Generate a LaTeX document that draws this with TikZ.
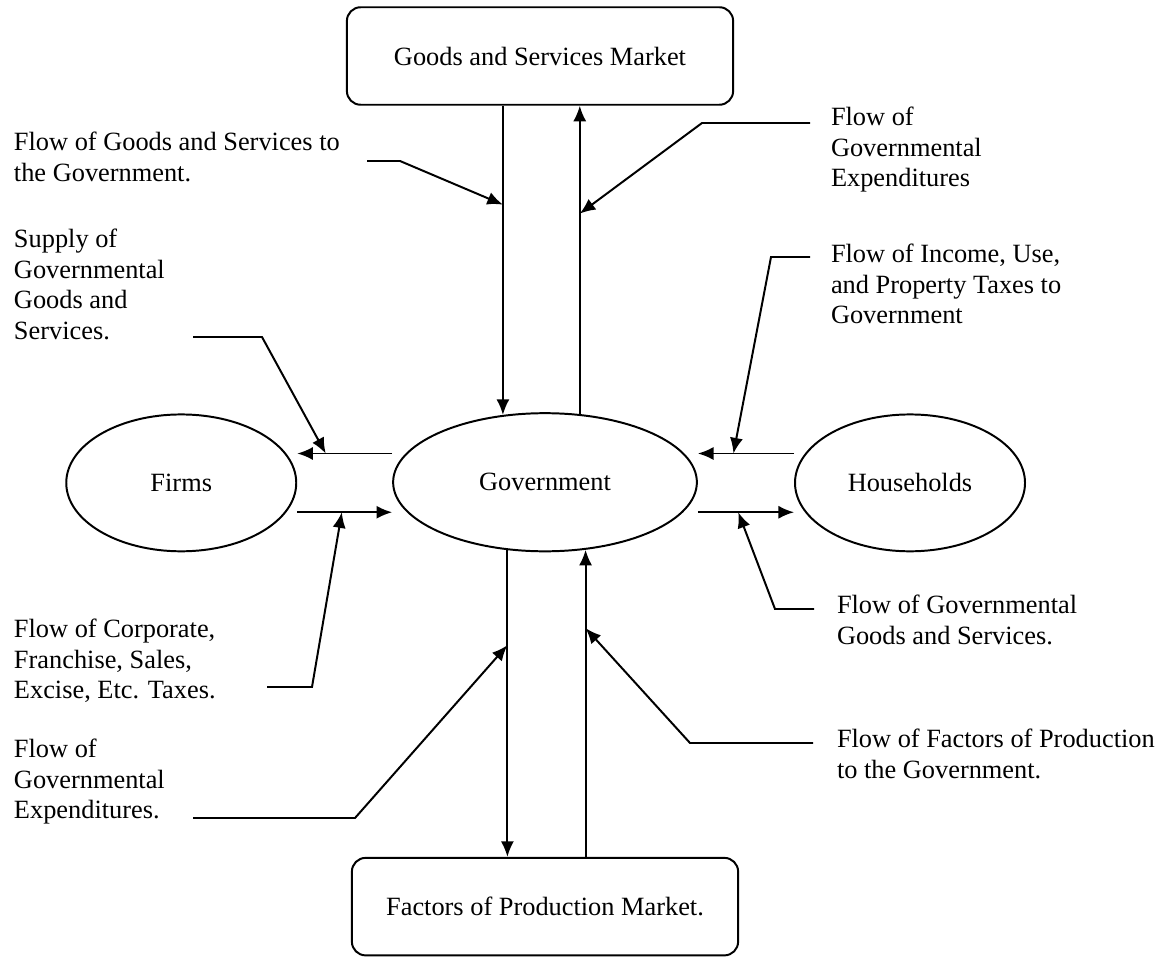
\documentclass[tikz,border=0pt]{standalone}
\usepackage{fontspec}
\setmainfont{Liberation Serif}
\usetikzlibrary{shapes.geometric,arrows.meta}

\begin{document}
\begin{tikzpicture}[
  line width=0.9pt,
  >={Latex[length=2.5mm,width=2.1mm]},
  font=\fontsize{12}{13.9}\selectfont,
  market/.style={draw,rounded corners=0.22cm,minimum width=6.18cm,minimum height=1.56cm},
  agent/.style={draw,ellipse,inner sep=0pt,minimum width=3.68cm,minimum height=2.19cm},
  note/.style={anchor=north west,inner sep=0pt,align=left}
]
\useasboundingbox (0,0) rectangle (18.624,15.296);

% markets and agents
\node[market] (gsm) at (8.64,14.4) {Goods and Services Market};
\node[market] (fpm) at (8.72,0.79) {Factors of Production Market.};
\node[agent,minimum width=4.86cm,minimum height=2.21cm] (gov) at (8.72,7.58) {Government};
\node[agent] (firms) at (2.9,7.57) {Firms};
\node[agent] (hh) at (14.56,7.57) {Households};

% flows up and down
\draw[->] (gov.122 |- gsm.south) -- coordinate[pos=0.32] (tipA) (gov.122);
\draw[->] (gov.63) -- coordinate[pos=0.65] (tipE) (gov.63 |- gsm.south);
\draw[->] (gov.241) -- coordinate[pos=0.31] (tipD) (gov.241 |- fpm.north);
\draw[->] (gov.301 |- fpm.north) -- coordinate[pos=0.745] (tipH) (gov.301);

% flows left and right
\draw[->] ([yshift=4.6mm]gov.west) -- coordinate[pos=0.7] (tipB) ([yshift=4.6mm]gov.west -| firms.east);
\draw[->] ([yshift=-4.8mm]gov.west -| firms.east) -- coordinate[pos=0.47] (tipC) ([yshift=-4.8mm]gov.west);
\draw[->] ([yshift=4.6mm]gov.east -| hh.west) -- coordinate[pos=0.63] (tipF) ([yshift=4.6mm]gov.east);
\draw[->] ([yshift=-4.8mm]gov.east) -- coordinate[pos=0.42] (tipG) ([yshift=-4.8mm]gov.east -| hh.west);

% labels
\node[note] (lgoods) at (0.208,13.2) {Flow of Goods and Services to\\the Government.};
\node[note] (lsupply) at (0.208,11.648) {Supply of\\Governmental\\Goods and\\Services.};
\node[note] (ltaxfirm) at (0.208,5.408) {Flow of Corporate,\\Franchise, Sales,\\Excise, Etc. Taxes.};
\node[note] (lexpfac) at (0.208,3.488) {Flow of\\Governmental\\Expenditures.};
\node[note] (lexpgsm) at (13.28,13.6) {Flow of\\Governmental\\Expenditures};
\node[note] (ltaxhh) at (13.28,11.408) {Flow of Income, Use,\\and Property Taxes to\\Government};
\node[note] (lsvchh) at (13.376,5.792) {Flow of Governmental\\Goods and Services.};
\node[note] (lfactor) at (13.376,3.648) {Flow of Factors of Production\\to the Government.};

% leaders
\coordinate (a0) at (5.872,12.72);  \coordinate (a1) at (6.4,12.72);
\coordinate (b0) at (3.088,9.904);  \coordinate (b1) at (4.192,9.904);
\coordinate (c0) at (4.272,4.304);  \coordinate (c1) at (4.992,4.304);
\coordinate (d0) at (3.088,2.208);  \coordinate (d1) at (5.68,2.208);
\coordinate (e0) at (12.96,13.328); \coordinate (e1) at (11.232,13.328);
\coordinate (f0) at (12.96,11.184); \coordinate (f1) at (12.336,11.184);
\coordinate (g0) at (13.024,5.552); \coordinate (g1) at (12.4,5.552);
\coordinate (h0) at (13.008,3.408); \coordinate (h1) at (11.04,3.408);
\draw[->] (a0) -- (a1) -- (tipA);
\draw[->] (b0) -- (b1) -- (tipB);
\draw[->] (c0) -- (c1) -- (tipC);
\draw[->] (d0) -- (d1) -- (tipD);
\draw[->] (e0) -- (e1) -- (tipE);
\draw[->] (f0) -- (f1) -- (tipF);
\draw[->] (g0) -- (g1) -- (tipG);
\draw[->] (h0) -- (h1) -- (tipH);
\end{tikzpicture}
\end{document}
